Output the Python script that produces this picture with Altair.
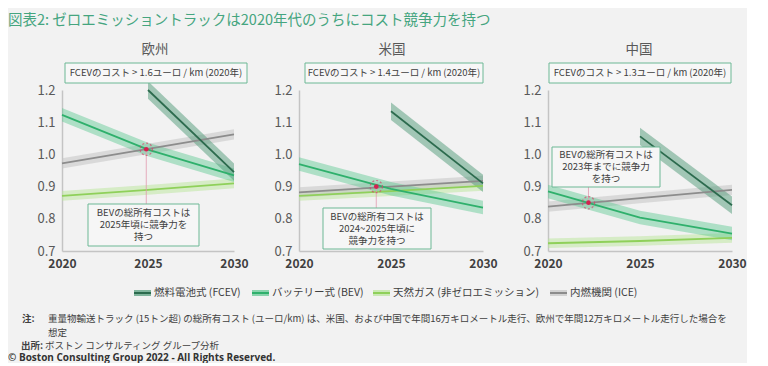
import altair as alt
import pandas as pd

# ---------------- data ----------------
regions = ["欧州", "米国", "中国"]
series = ["FCEV", "BEV", "NG", "ICE"]
series_labels = ["燃料電池式 (FCEV)", "バッテリー式 (BEV)", "天然ガス (非ゼロエミッション)", "内燃機関 (ICE)"]
years = [2020, 2025, 2030]
fcev_years = [2025, 2030]

fcev_eu = [1.200, 0.945]
fcev_us = [1.134, 0.910]
fcev_cn = [1.056, 0.842]
bev_eu = [1.123, 1.015, 0.935]
bev_us = [0.970, 0.893, 0.835]
bev_cn = [0.885, 0.804, 0.754]
ng_eu = [0.871, 0.890, 0.910]
ng_us = [0.871, 0.886, 0.902]
ng_cn = [0.724, 0.731, 0.741]
ice_eu = [0.972, 1.017, 1.062]
ice_us = [0.882, 0.900, 0.918]
ice_cn = [0.838, 0.864, 0.890]

band_half = [0.027, 0.021, 0.015, 0.016]  # FCEV, BEV, NG, ICE

dot_year = [2024.9, 2024.2, 2022.2]
dot_value = [1.016, 0.900, 0.850]

fcev_notes = [
    "FCEVのコスト > 1.6ユーロ / km (2020年)",
    "FCEVのコスト > 1.4ユーロ / km (2020年)",
    "FCEVのコスト > 1.3ユーロ / km (2020年)",
]
bev_notes = [
    ["BEVの総所有コストは", "2025年頃に競争力を", "持つ"],
    ["BEVの総所有コストは", "2024~2025年頃に", "競争力を持つ"],
    ["BEVの総所有コストは", "2023年までに競争力", "を持つ"],
]
title_text = "図表2: ゼロエミッショントラックは2020年代のうちにコスト競争力を持つ"
note_line1 = "重量物輸送トラック (15トン超) の総所有コスト (ユーロ/km) は、米国、および中国で年間16万キロメートル走行、欧州で年間12万キロメートル走行した場合を"
note_line2 = "想定"
source_text = "ボストン コンサルティング グループ分析"
copyright_text = "© Boston Consulting Group 2022 - All Rights Reserved."

series_values = {
    ("欧州", "FCEV"): (fcev_years, fcev_eu), ("米国", "FCEV"): (fcev_years, fcev_us), ("中国", "FCEV"): (fcev_years, fcev_cn),
    ("欧州", "BEV"): (years, bev_eu), ("米国", "BEV"): (years, bev_us), ("中国", "BEV"): (years, bev_cn),
    ("欧州", "NG"): (years, ng_eu), ("米国", "NG"): (years, ng_us), ("中国", "NG"): (years, ng_cn),
    ("欧州", "ICE"): (years, ice_eu), ("米国", "ICE"): (years, ice_us), ("中国", "ICE"): (years, ice_cn),
}

rows = []
for (reg, s), (ys, vs) in series_values.items():
    h = band_half[series.index(s)]
    for y, v in zip(ys, vs):
        rows.append({"region": reg, "series": s, "year": y, "value": v, "lo": v - h, "hi": v + h})
df = pd.DataFrame(rows)
dots = pd.DataFrame({"region": regions, "year": dot_year, "value": dot_value})
one = pd.DataFrame({"a": [0]})

# ---------------- styles / layout ----------------
JP = "Noto Sans CJK JP"
line_colors = ["#2c6b4e", "#2fb06c", "#8fd05a", "#8c8c8c"]
band_colors = ["#4f9a78", "#5cc890", "#b9e69a", "#c4c4c4"]
band_opacity = [0.5, 0.45, 0.5, 0.55]
draw_order = ["NG", "ICE", "BEV", "FCEV"]

widths = [172, 184, 184]
H = 161
title_x = [93, 93, 91]
topbox = [(3, 185), (6, 184), (1, 183)]
annot_box = [(26, 137, 114, 156), (24, 132, 118, 159), (4, 112, 57, 97)]
annot_line_y = [[123, 135, 147], [126.5, 138.5, 150.5], [65, 77, 89]]
connector_end = [114, 118, 97]

legend_swatch = [(72, 89), (190, 207), (311, 328), (488, 505)]
legend_text_x = [92, 210, 331, 508]
legend_y = 203

X = alt.X("year:Q", scale=alt.Scale(domain=[2020, 2030], nice=False, zero=False),
          axis=alt.Axis(values=[2020, 2025, 2030], format="d", title=None, labelFlush=False,
                        labelFontWeight=600, labelColor="#404040", labelPadding=7,
                        labelFontSize=12))
Yaxis = alt.Axis(values=[0.7, 0.8, 0.9, 1.0, 1.1, 1.2], format=".1f", title=None, labelPadding=7)
Yscale = alt.Scale(domain=[0.7, 1.2], nice=False, zero=False)


def txt(text, x, y, size=11, color="#404040", align="center", weight="normal", font=JP, baseline="middle"):
    return alt.Chart(one).mark_text(text=text, fontSize=size, color=color, align=align,
                                    fontWeight=weight, font=font, baseline=baseline).encode(
        x=alt.value(x), y=alt.value(y))


def panel(i):
    reg = regions[i]
    w = widths[i]
    layers = []
    for s in draw_order:
        k = series.index(s)
        base = alt.Chart(df).transform_filter(
            (alt.datum.region == reg) & (alt.datum.series == s))
        layers.append(base.mark_area(color=band_colors[k], opacity=band_opacity[k]).encode(
            x=X, y=alt.Y("lo:Q", scale=Yscale, axis=Yaxis), y2="hi:Q"))
    for s in draw_order:
        k = series.index(s)
        base = alt.Chart(df).transform_filter(
            (alt.datum.region == reg) & (alt.datum.series == s))
        layers.append(base.mark_line(color=line_colors[k], strokeWidth=1.8).encode(
            x=X, y=alt.Y("value:Q", scale=Yscale, axis=Yaxis)))
    bx0, bx1, by0, by1 = annot_box[i]
    dbase = alt.Chart(dots).transform_filter(alt.datum.region == reg)
    layers.append(dbase.mark_rule(color="#e29bb0", strokeWidth=0.8).encode(
        x=X, y=alt.Y("value:Q", scale=Yscale, axis=Yaxis), y2=alt.value(connector_end[i])))
    layers.append(alt.Chart(one).mark_rect(fill="#f6f6f6", stroke="#6db895", strokeWidth=1).encode(
        x=alt.value(bx0), x2=alt.value(bx1), y=alt.value(by0), y2=alt.value(by1)))
    for j, line in enumerate(bev_notes[i]):
        layers.append(txt(line, (bx0 + bx1) / 2, annot_line_y[i][j], size=9.5, color="#404040"))
    layers.append(dbase.mark_point(shape="circle", size=150, filled=False, color="#d6436a",
                                   strokeWidth=1.2, strokeDash=[2, 2]).encode(
        x=X, y=alt.Y("value:Q", scale=Yscale, axis=Yaxis)))
    layers.append(dbase.mark_point(shape="circle", size=22, filled=True, color="#d42250", opacity=1).encode(
        x=X, y=alt.Y("value:Q", scale=Yscale, axis=Yaxis)))
    t0, t1 = topbox[i]
    layers.append(alt.Chart(one).mark_rect(fill="#f7f7f7", stroke="#6db895", strokeWidth=1).encode(
        x=alt.value(t0), x2=alt.value(t1), y=alt.value(-27), y2=alt.value(-7)))
    layers.append(txt(fcev_notes[i], (t0 + t1) / 2, -17, size=9.5, color="#404040"))
    layers.append(txt(reg, title_x[i], -40, size=13.5, color="#595959"))

    if i == 0:
        layers.append(txt(title_text, -54, -76, size=14.5, color="#45a57f", align="left",
                          baseline="top"))
        for k in range(4):
            a, b = legend_swatch[k]
            layers.append(alt.Chart(one).mark_rect(fill=band_colors[k], opacity=0.7).encode(
                x=alt.value(a), x2=alt.value(b), y=alt.value(legend_y - 3), y2=alt.value(legend_y + 3)))
            layers.append(alt.Chart(one).mark_rule(color=line_colors[k], strokeWidth=2).encode(
                x=alt.value(a), x2=alt.value(b), y=alt.value(legend_y)))
            layers.append(txt(series_labels[k], legend_text_x[k], legend_y, size=10.5,
                              color="#404040", align="left"))
        layers.append(txt("注:", -40, 229, size=9.5, align="left", weight="bold"))
        layers.append(txt(note_line1, -14, 229, size=9.5, align="left"))
        layers.append(txt(note_line2, -14, 243, size=9.5, align="left"))
        layers.append(txt("出所:", -41, 256, size=9.5, align="left", weight="bold"))
        layers.append(txt(source_text, -17, 256, size=9.5, align="left"))
        layers.append(txt(copyright_text, -54, 268, size=10, align="left", weight="bold",
                          font="Open Sans", color="#333333"))
    return alt.layer(*layers).properties(width=w, height=H)


chart = alt.hconcat(panel(0), panel(1), panel(2), spacing=65, bounds="flush").properties(
    padding={"left": 0, "top": 5, "right": 0, "bottom": 0}, background="#f2f2f2"
).configure_view(stroke=None).configure_axis(
    domainColor="#c4c4c4", domainWidth=1.5, ticks=False, grid=False,
    labelColor="#595959", labelFontSize=13, labelFont=JP
)

chart.save("out.html", embed_options={"renderer": "svg", "actions": False})
